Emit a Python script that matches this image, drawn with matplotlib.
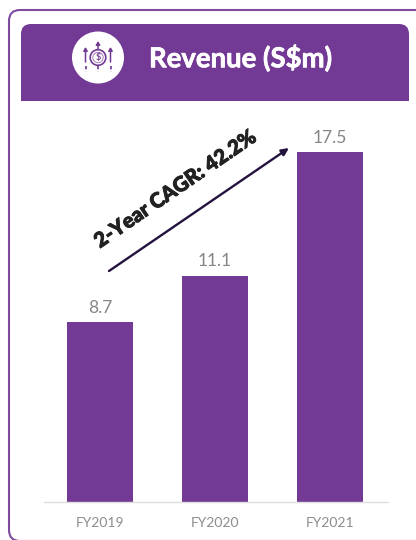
import matplotlib
matplotlib.use("Agg")
import matplotlib.pyplot as plt
import matplotlib.patheffects as pe
from matplotlib.patches import FancyBboxPatch, PathPatch, Circle
from matplotlib.path import Path

plt.rcParams['font.family'] = ['Lato', 'DejaVu Sans']

categories = ["FY2019", "FY2020", "FY2021"]
revenue = [8.7, 11.1, 17.5]
value_labels = ["8.7", "11.1", "17.5"]
title = "Revenue (S$m)"
cagr_label = "2-Year CAGR: 42.2%"

PURPLE = "#723A94"
W, H = 416, 540

fig = plt.figure(figsize=(W / 100, H / 100), dpi=100, facecolor="white")

# Page-level layer in pixel units for the card, header and badge
bg = fig.add_axes([0, 0, 1, 1], zorder=0)
bg.set_xlim(0, W)
bg.set_ylim(H, 0)
bg.axis("off")

bg.add_patch(FancyBboxPatch((9, 10), 440, 531,
                            boxstyle="round,pad=0,rounding_size=11",
                            fc="white", ec="#7E4BA0", lw=1.5))

# Header band with rounded top corners only
x0, x1, y0, y1, r = 21, 409, 24, 101, 10
verts = [(x0, y1), (x0, y0 + r), (x0, y0), (x0 + r, y0), (x1 - r, y0),
         (x1, y0), (x1, y0 + r), (x1, y1), (x0, y1)]
codes = [Path.MOVETO, Path.LINETO, Path.CURVE3, Path.CURVE3, Path.LINETO,
         Path.CURVE3, Path.CURVE3, Path.LINETO, Path.CLOSEPOLY]
bg.add_patch(PathPatch(Path(verts, codes), fc=PURPLE, ec="none"))

bg.text(149, 58, title, color="white", fontsize=19.8, fontweight="bold",
        ha="left", va="center",
        path_effects=[pe.withStroke(linewidth=0.5, foreground="white")])

# Badge: rising arrows around a coin
cx, cy = 98, 57.5
bg.add_patch(Circle((cx, cy), 26, fc="white", ec="none"))
for dx, tip, tail in [(-12.5, 47, 62), (0, 41, 49), (12.5, 47, 62)]:
    bg.annotate("", xy=(cx + dx, tip), xytext=(cx + dx, tail),
                arrowprops=dict(arrowstyle="-|>,head_width=0.12,head_length=0.2",
                                color=PURPLE, lw=1.1, shrinkA=0, shrinkB=0))
    bg.plot([cx + dx, cx + dx], [66, 72], color=PURPLE, lw=1.2,
            linestyle=(0, (2, 1.5)))
bg.add_patch(Circle((cx, cy), 7.8, fc="white", ec=PURPLE, lw=1.2))
bg.add_patch(Circle((cx, cy), 5.2, fc="white", ec="#A67FBD", lw=0.7))
bg.text(cx, cy + 0.2, "$", color=PURPLE, fontsize=6.5, fontweight="bold",
        ha="center", va="center")

# Bar chart
ax = fig.add_axes([44 / W, (H - 502) / H, 344 / W, 392 / H], zorder=1)
ax.patch.set_alpha(0)
base = -0.6
ax.set_ylim(base, base + 392 / 19.35)
ax.set_xlim(-0.487, 2.504)
positions = range(len(categories))
ax.bar(positions, [v - base for v in revenue], bottom=base, width=0.574,
       color=PURPLE)
for p, v, lab in zip(positions, revenue, value_labels):
    ax.annotate(lab, (p, v), xytext=(0, 4.5), textcoords="offset points",
                ha="center", va="bottom", fontsize=12.5, color="#858585")

for s in ("top", "left", "right"):
    ax.spines[s].set_visible(False)
ax.spines["bottom"].set_color("#DEDEDE")
ax.spines["bottom"].set_linewidth(1.0)
ax.set_yticks([])
ax.set_xticks(list(positions), categories)
ax.tick_params(axis="x", length=0, pad=11, labelsize=10, labelcolor="#8C8C8C")

# Growth arrow and its label, above the bars
top = fig.add_axes([0, 0, 1, 1], zorder=2)
top.set_xlim(0, W)
top.set_ylim(H, 0)
top.axis("off")
top.annotate("", xy=(289, 148), xytext=(109, 271),
             arrowprops=dict(arrowstyle="-|>,head_width=0.2,head_length=0.42",
                             color="#24123F", lw=1.7, shrinkA=0, shrinkB=0))
top.text(175, 189, cagr_label, rotation=34.5, rotation_mode="anchor",
         ha="center", va="center", fontsize=14.8, fontweight="black",
         color="#222222",
         path_effects=[pe.withStroke(linewidth=0.7, foreground="#222222")])

fig.savefig("out.png", dpi=100)
